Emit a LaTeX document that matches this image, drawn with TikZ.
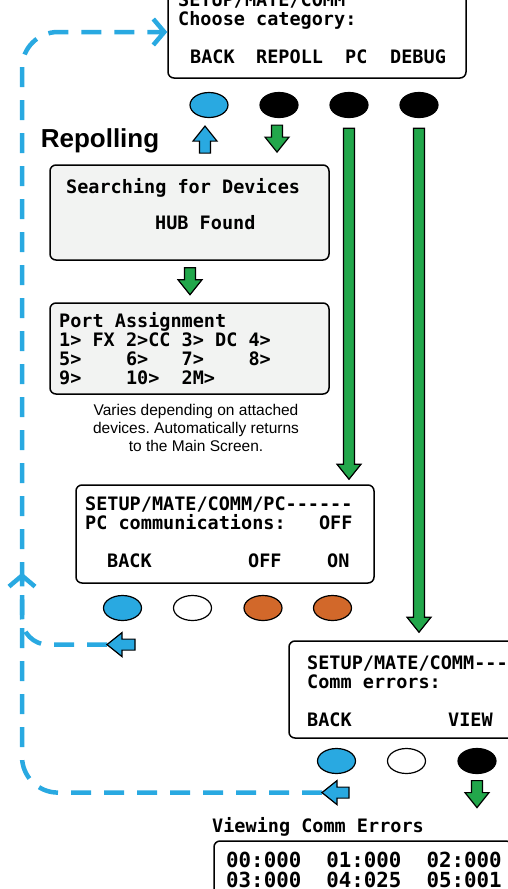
\documentclass[tikz,border=0pt]{standalone}
\usepackage{fontspec}
\usepackage{xcolor}
\usetikzlibrary{calc,arrows.meta,shapes.geometric}
\newfontfamily\lcdfont{DejaVu Sans Mono}
\newfontfamily\capfont{Liberation Sans}
\definecolor{keyblue}{HTML}{29A9E1}
\definecolor{keygreen}{HTML}{22A74B}
\definecolor{keyorange}{HTML}{D2682A}
\definecolor{lcdgrey}{HTML}{F2F3F2}
\frenchspacing

\begin{document}
\begin{tikzpicture}[x = 1pt, y = -1pt,
	screen/.style = {draw, line width = 1.5pt, rounded corners = 6pt, inner sep = 0pt},
	lcd/.style = {font = \lcdfont\bfseries\fontsize{18.5}{19}\selectfont, inner sep = 0pt, anchor = base west},
	lcdbig/.style = {lcd, font = \lcdfont\bfseries\fontsize{20.8}{21}\selectfont},
	button/.style = {ellipse, draw, line width = 1.2pt, minimum width = 38pt, minimum height = 25pt, inner sep = 0pt},
	barrow/.style = {draw, line width = 1.2pt, fill = keyblue},
	garrow/.style = {draw, line width = 1.2pt, fill = keygreen},
	dashline/.style = {keyblue, line width = 4.5pt, dash pattern = on 20pt off 13pt},
	pics/blockarrow/.style = {code = {\draw[pic actions] (0,0) -- (-15,12) -- (-15,5.5) -- (-#1,5.5) -- (-#1,-5.5) -- (-15,-5.5) -- (-15,-12) -- cycle;}}
]
	\useasboundingbox (0,0) rectangle (507,889);

	\node[screen, minimum width = 298pt, minimum height = 92pt] (topbox) at (317,32) {};
	\node[lcd] (tl1) at (178,6) {SETUP/MATE/COMM};
	\node[lcd] (tl2) at (178,25) {Choose category:};
	\node[lcd] (kback) at (190,63) {BACK};
	\node[lcd] (krepoll) at (256,63) {REPOLL};
	\node[lcd] (kpc) at (345,63) {PC};
	\node[lcd] (kdebug) at (390,63) {DEBUG};

	\node[button, fill = keyblue] (b1) at (209,105) {};
	\node[button, fill = black] (b2) at (279,105) {};
	\node[button, fill = black] (b3) at (349,105) {};
	\node[button, fill = black] (b4) at (419,105) {};

	\node[anchor = base, font = \capfont\bfseries\fontsize{26}{30}\selectfont] (repoll) at (100,147) {Repolling};
	\pic[barrow, rotate = 90] at ($(b1.south)+(-4,8)$) {blockarrow = 27};
	\pic[garrow, rotate = -90] at ($(b2.south)+(-2,34)$) {blockarrow = 27};

	\node[screen, fill = lcdgrey, minimum width = 279pt, minimum height = 95pt] (searchbox) at (189.5,212.5) {};
	\node[lcd] (sl1) at (66,193) {Searching for Devices};
	\node[lcd] (sl2) at (155,229) {HUB Found};
	\pic[garrow, rotate = -90] at ($(searchbox.south)+(0.5,34)$) {blockarrow = 27};

	\node[screen, fill = lcdgrey, minimum width = 279pt, minimum height = 91pt] (portbox) at (189.5,348.5) {};
	\node[lcd] (pl1) at (59,327) {Port Assignment};
	\node[lcd] (pl2) at (59,346) {1>~FX~2>CC~3>~DC~4>};
	\node[lcd] (pl3) at (59,365) {5>~~~~6>~~~7>~~~~8>};
	\node[lcd] (pl4) at (59,384) {9>~~~~10>~~2M>};
	\node[align = center, font = \capfont\fontsize{15.5}{18}\selectfont] (note) at (196,428) {Varies depending on attached\\devices. Automatically returns\\to the Main Screen.};

	\node[screen, minimum width = 298pt, minimum height = 98pt] (pcbox) at (225,534) {};
	\node[lcd] (cl1) at (85,510) {SETUP/MATE/COMM/PC------};
	\node[lcd] (cl2) at (85,529) {PC~communications:~~~OFF};
	\node[lcd] (cback) at (107,567) {BACK};
	\node[lcd] (coff) at (248,567) {OFF};
	\node[lcd] (con) at (327,567) {ON};

	\node[button, fill = keyblue] (p1) at (122.5,608) {};
	\node[button, fill = white] (p2) at (192.5,608) {};
	\node[button, fill = keyorange] (p3) at (263,608) {};
	\node[button, fill = keyorange] (p4) at (332.5,608) {};

	\node[screen, minimum width = 298pt, minimum height = 97pt] (commbox) at (438,689.5) {};
	\node[lcd] (ml1) at (307,669) {SETUP/MATE/COMM---};
	\node[lcd] (ml2) at (307,688) {Comm errors:};
	\node[lcd] (mback) at (307,726) {BACK};
	\node[lcd] (mview) at (448,726) {VIEW};

	\node[button, fill = keyblue] (c1) at (336.5,761) {};
	\node[button, fill = white] (c2) at (406.5,761) {};
	\node[button, fill = black] (c3) at (477,761) {};

	\pic[garrow, rotate = -90] at ($(c3.south)+(0,33.5)$) {blockarrow = 27};
	\node[lcd] (errtitle) at (212,832) {Viewing Comm Errors};
	\node[screen, minimum width = 298pt, minimum height = 90pt] (errbox) at (363,886) {};
	\node[lcdbig] (el1) at (226,867) {00:000~~01:000~~02:000};
	\node[lcdbig] (el2) at (226,887) {03:000~~04:025~~05:001};

	\pic[garrow, rotate = -90] at ($(b3 |- pcbox.north)+(0,-5)$) {blockarrow = 351};
	\pic[garrow, rotate = -90] at ($(b4 |- commbox.north)+(0,-8)$) {blockarrow = 504};

	\coordinate (rail) at (22,0);
	\coordinate (bp) at ($(p1.south)+(-15.5,23.5)$);
	\coordinate (bc) at ($(c1.south)+(-14.5,18.5)$);
	\draw[dashline, rounded corners = 36pt, -{Straight Barb[length = 11pt, width = 26pt]}] (bc) -- (bc -| rail) -- (rail |- topbox.west) -- (topbox.west);
	\draw[dashline, rounded corners = 26pt, -{Straight Barb[length = 11pt, width = 26pt]}] (bp) -- (bp -| rail) -- ($(rail |- bp)+(0,-72)$);
	\pic[barrow, rotate = 180] at (bp) {blockarrow = 28};
	\pic[barrow, rotate = 180] at (bc) {blockarrow = 27};
\end{tikzpicture}
\end{document}
